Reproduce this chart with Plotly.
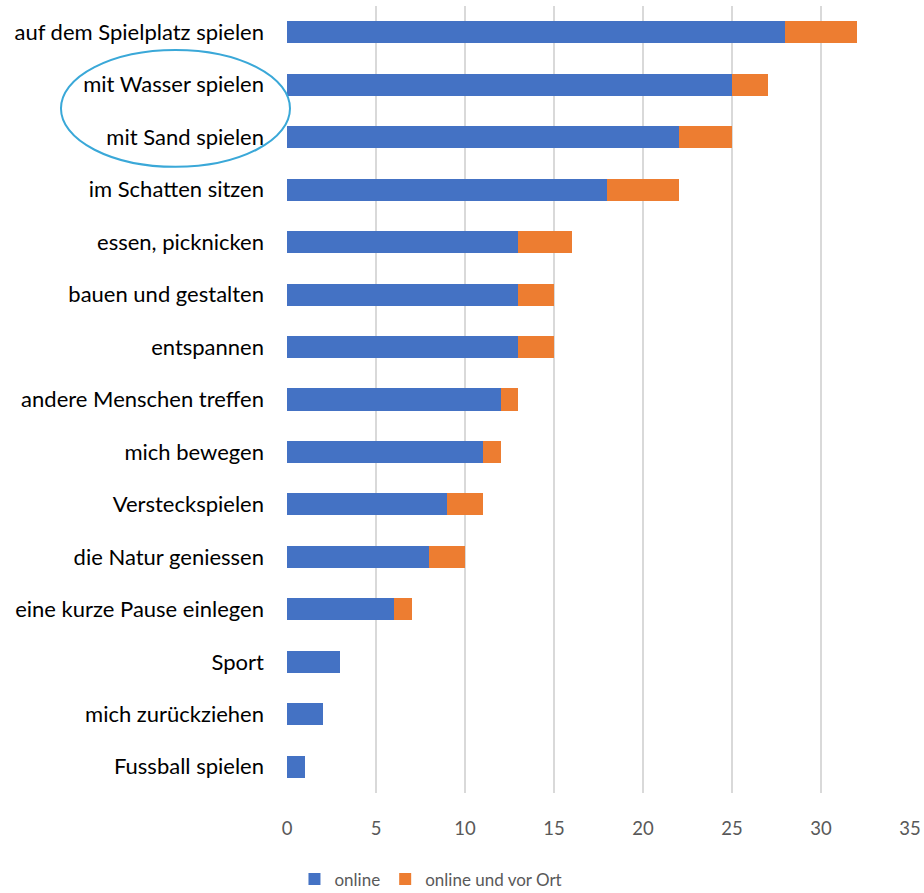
import plotly.graph_objects as go

categories = ["auf dem Spielplatz spielen", "mit Wasser spielen", "mit Sand spielen",
              "im Schatten sitzen", "essen, picknicken", "bauen und gestalten",
              "entspannen", "andere Menschen treffen", "mich bewegen",
              "Versteckspielen", "die Natur geniessen", "eine kurze Pause einlegen",
              "Sport", "mich zurückziehen", "Fussball spielen"]
online = [28, 25, 22, 18, 13, 13, 13, 12, 11, 9, 8, 6, 3, 2, 1]
vor_ort = [4, 2, 3, 4, 3, 2, 2, 1, 1, 2, 2, 1, 0, 0, 0]
x_ticks = [0, 5, 10, 15, 20, 25, 30, 35]

FONT = "Lato"

fig = go.Figure()
fig.add_trace(go.Bar(y=categories, x=online, orientation="h", name="online",
                     marker=dict(color="#4472C4", line=dict(width=0))))
fig.add_trace(go.Bar(y=categories, x=vor_ort, orientation="h", name="online und vor Ort",
                     marker=dict(color="#ED7D31", line=dict(width=0))))

fig.update_layout(
    width=924, height=893,
    margin=dict(l=287, r=14, t=6, b=99.5, autoexpand=False),
    barmode="stack", bargap=0.58,
    plot_bgcolor="white", paper_bgcolor="white",
    font=dict(family=FONT, size=18, color="#000000"),
    showlegend=True,
    legend=dict(orientation="h", x=0.012, xanchor="left", y=-0.1098, yanchor="middle",
                font=dict(size=17, color="#595959"), itemwidth=30,
                traceorder="normal"),
    xaxis=dict(range=[0, 35], tickvals=x_ticks, showgrid=True, gridcolor="#D9D9D9",
               gridwidth=1.5, zeroline=False, showline=False, automargin=False,
               tickfont=dict(size=18.5, color="#595959"), ticklabelstandoff=22),
    yaxis=dict(autorange="reversed", showgrid=False, showline=False, zeroline=False,
               automargin=False,
               tickfont=dict(size=22, color="#000000"), ticklabelstandoff=22),
)

fig.add_shape(type="circle", xref="paper", yref="paper",
              x0=-0.3628, x1=0.0048, y0=0.7956, y1=0.9441,
              line=dict(color="#3AA8D8", width=2), fillcolor="rgba(0,0,0,0)")

fig.write_html("out.html", config={"displayModeBar": False},
               post_script="document.body.style.margin='0';document.body.style.overflow='hidden';")
